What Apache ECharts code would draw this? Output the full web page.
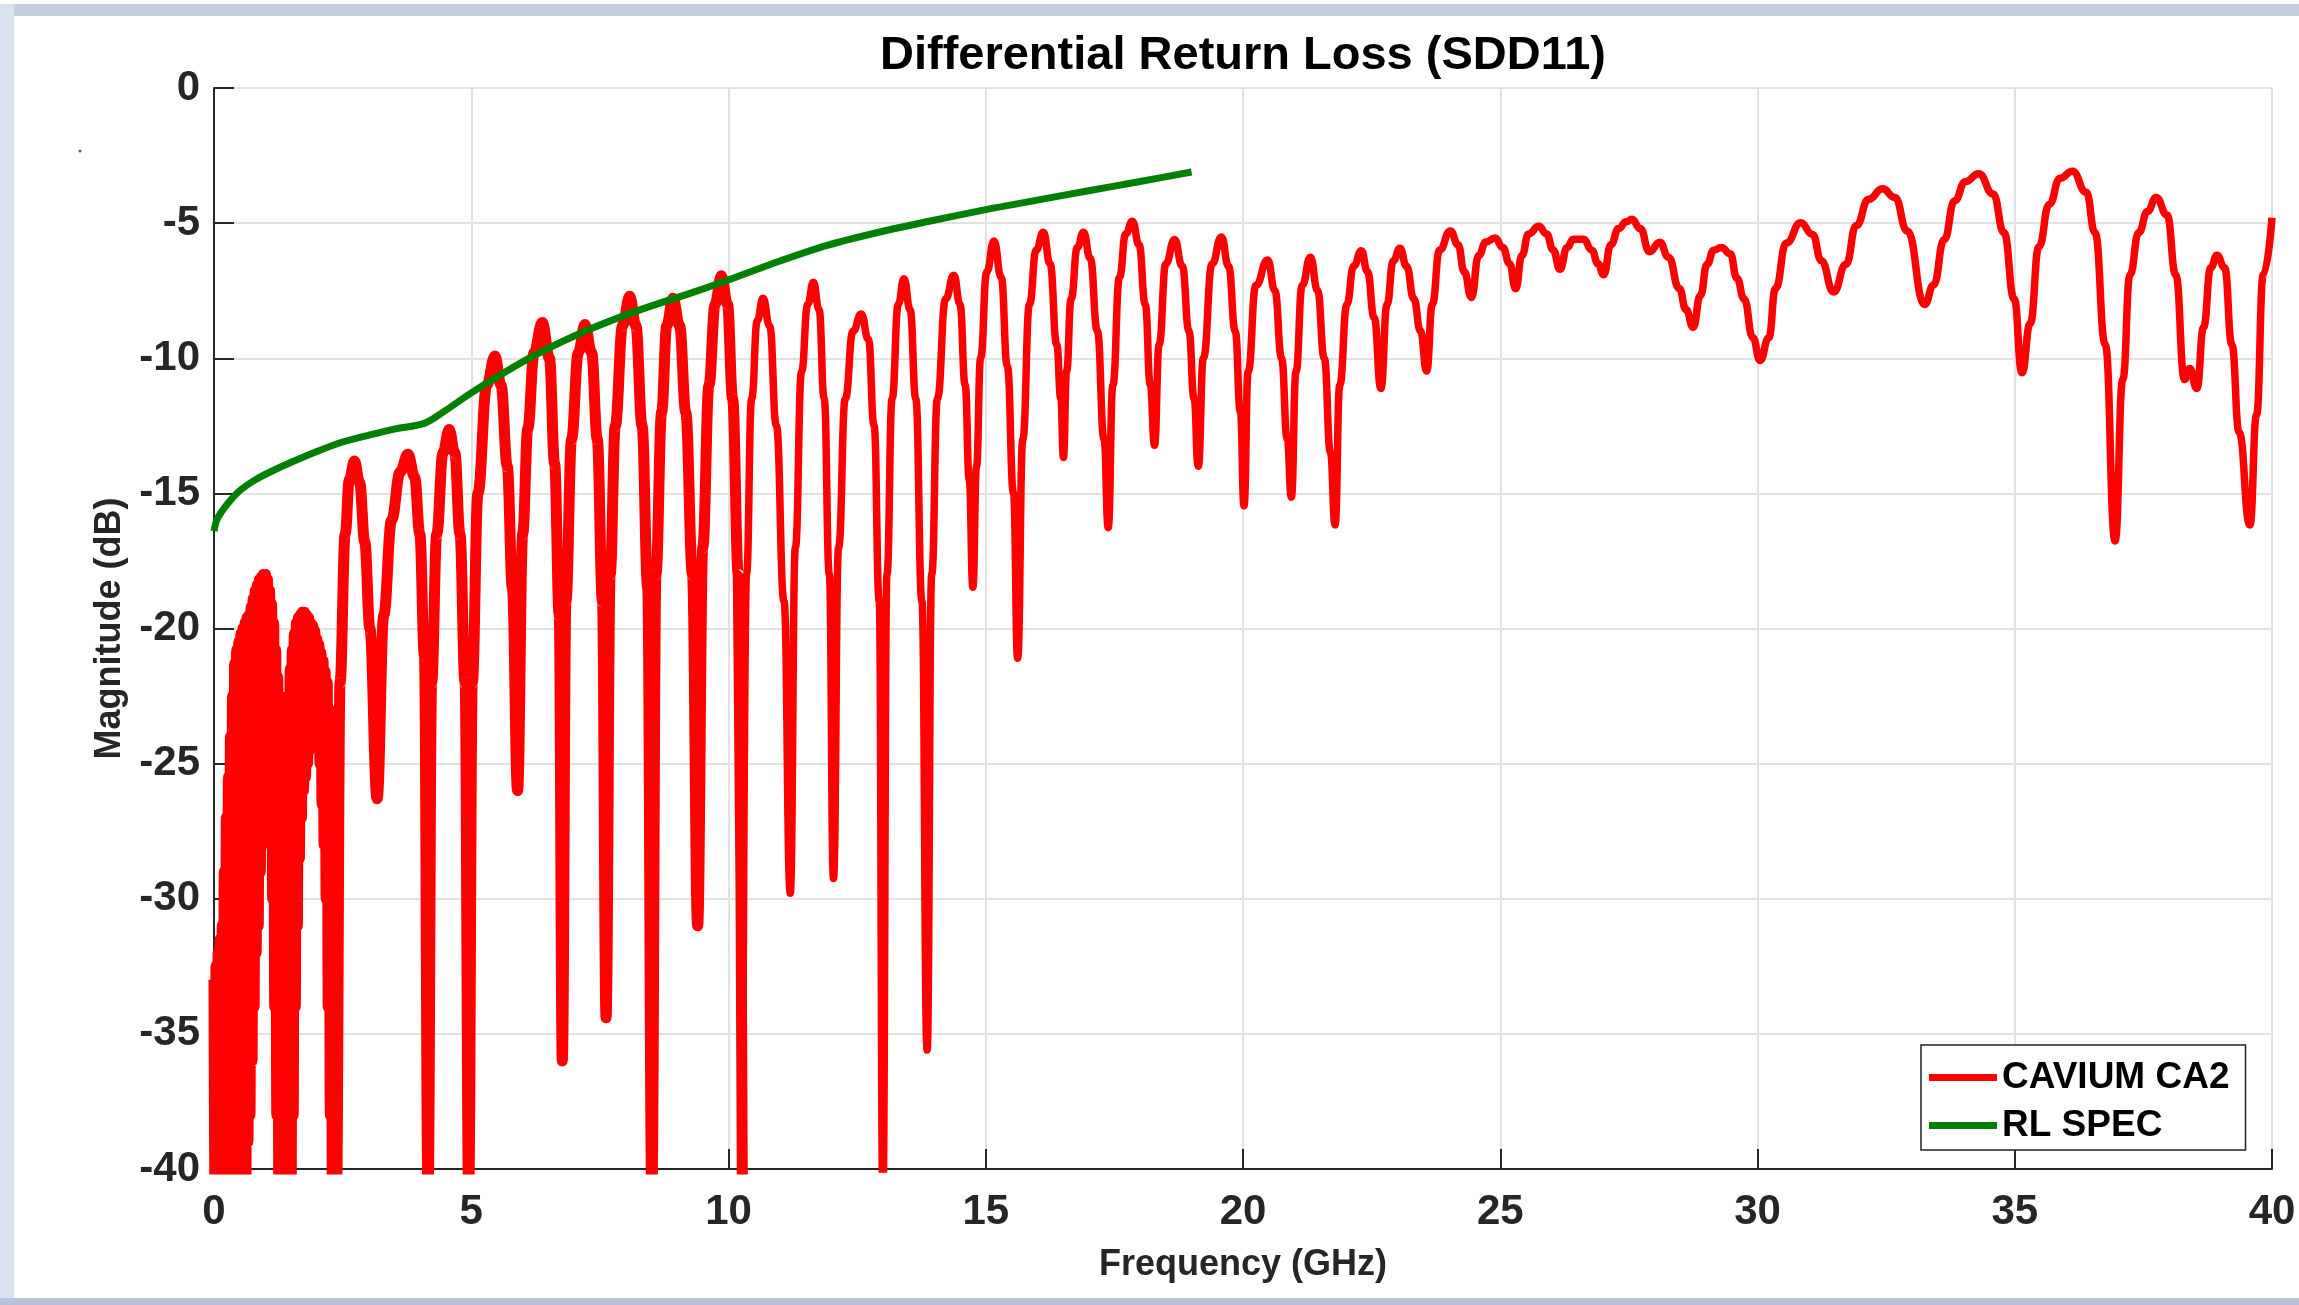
<!DOCTYPE html>
<html>
<head>
<meta charset="utf-8">
<script src="https://cdn.jsdelivr.net/npm/echarts@6/dist/echarts.min.js"></script>
<style>
html,body{margin:0;padding:0;background:#fff;}
#chart-wrapper{width:2299px;height:1305px;}
</style>
</head>
<body>
<div id="chart-wrapper"></div>
<script>
var chartTitle = "Differential Return Loss (SDD11)";
var seriesNames = ["CAVIUM CA2", "RL SPEC"];
var xTicks = [0, 5, 10, 15, 20, 25, 30, 35, 40];
var yTicks = [-40, -35, -30, -25, -20, -15, -10, -5, 0];

// measured S-parameter trace, [GHz, dB], below ~10 GHz (thick, noisy part)
var caviumLow = [
	[0,-33],[0.02,-41],[0.04,-32.5],[0.06,-41],[0.08,-32],[0.10,-41],[0.12,-31.5],[0.14,-38.5],[0.16,-31],[0.18,-38.5],
	[0.20,-29],[0.22,-38.5],[0.24,-27],[0.26,-38.5],[0.28,-25.5],[0.30,-41],[0.32,-24],[0.34,-41],[0.36,-22.5],[0.38,-41],
	[0.40,-21.3],[0.42,-41],[0.44,-20.8],[0.46,-41],[0.48,-20.5],[0.50,-41],[0.52,-20.2],[0.54,-41],[0.56,-20],[0.58,-41],
	[0.60,-19.8],[0.62,-41],[0.64,-19.6],[0.66,-39],[0.68,-19.5],[0.70,-38],[0.72,-19.2],[0.74,-36],[0.76,-18.9],[0.78,-34],
	[0.80,-18.6],[0.82,-32],[0.84,-18.4],[0.86,-31],[0.88,-18.2],[0.90,-29],[0.92,-18.1],[0.94,-28],[0.96,-18.0],[0.98,-26.5],
	[1.00,-18.0],[1.02,-25.5],[1.04,-18.2],[1.06,-25],[1.08,-18.6],[1.10,-26],[1.12,-19.1],[1.14,-30],[1.16,-19.8],[1.18,-34],
	[1.20,-20.8],[1.22,-38],[1.24,-21.8],[1.26,-41],[1.28,-22.5],[1.30,-41],[1.32,-23.5],[1.34,-41],[1.36,-25],[1.38,-41],
	[1.40,-24],[1.42,-41],[1.44,-22.5],[1.46,-41],[1.48,-21.5],[1.50,-41],[1.52,-20.8],[1.54,-38],[1.56,-20.2],[1.58,-34],
	[1.60,-19.8],[1.62,-31],[1.64,-19.6],[1.66,-28.5],[1.68,-19.5],[1.70,-27],[1.72,-19.4],[1.74,-26],[1.76,-19.4],[1.78,-25.5],
	[1.80,-19.5],[1.82,-25],[1.84,-19.6],[1.86,-24.5],[1.88,-19.8],[1.90,-24],[1.92,-19.9],[1.94,-23.8],[1.96,-20.1],[1.98,-23.6],
	[2.00,-20.4],[2.02,-24],[2.04,-20.6],[2.06,-25],[2.08,-20.9],[2.10,-26.5],[2.12,-21.2],[2.14,-28],[2.16,-21.6],[2.18,-30],
	[2.20,-22],[2.22,-34],[2.24,-23],[2.26,-38],[2.28,-24.5],[2.30,-41],[2.32,-26],[2.34,-41],[2.36,-27],
	[2.38,-41],[2.45,-22],[2.55,-16.5],[2.63,-14.5],[2.73,-13.8],[2.83,-14.6],[2.93,-16.8],[3.03,-20],[3.17,-26.3],
	[3.30,-19.5],[3.45,-16],[3.62,-14.2],[3.77,-13.55],[3.90,-14.4],[4.00,-16.5],[4.09,-21],[4.16,-41],
	[4.23,-22],[4.33,-16.5],[4.45,-13.5],[4.57,-12.64],[4.68,-13.5],[4.78,-16.5],[4.88,-22],[4.95,-41],
	[5.02,-22],[5.13,-15],[5.30,-11],[5.46,-9.92],[5.58,-11],[5.70,-14],[5.80,-18.5],[5.90,-26.0],
	[6.00,-16.5],[6.10,-12.6],[6.22,-9.8],[6.38,-8.68],[6.52,-10.0],[6.62,-13.9],[6.71,-19.5],[6.77,-36],
	[6.84,-19],[6.95,-13],[7.08,-9.8],[7.21,-8.75],[7.34,-9.8],[7.45,-13],[7.55,-19],[7.62,-34.4],
	[7.70,-18],[7.80,-12.5],[7.94,-8.8],[8.08,-7.71],[8.20,-8.8],[8.32,-12.5],[8.43,-18.5],[8.51,-41],
	[8.59,-18],[8.70,-12],[8.80,-8.8],[8.92,-7.78],[9.05,-8.8],[9.17,-12],[9.30,-18],[9.40,-31.0],
	[9.50,-17],[9.62,-11],[9.74,-8],[9.86,-6.95],[9.98,-8],[10.08,-11.5],[10.19,-18],[10.27,-41]
];

// same trace, 10.27 GHz up to 40 GHz
var caviumHigh = [
	[10.27,-41],[10.35,-18],[10.45,-11.5],[10.56,-8.6],[10.67,-7.78],[10.80,-8.8],[10.93,-12.5],[11.08,-19],[11.20,-29.8],
	[11.30,-17],[11.42,-10.5],[11.54,-8],[11.65,-7.19],[11.76,-8.2],[11.86,-11.5],[11.96,-18],[12.04,-29.25],
	[12.14,-17],[12.27,-11.5],[12.42,-9],[12.58,-8.36],[12.72,-9.3],[12.83,-12.5],[12.93,-19],[13.00,-41],
	[13.08,-18],[13.18,-11.5],[13.30,-8],[13.41,-7.06],[13.53,-8.2],[13.64,-11.5],[13.76,-19],[13.86,-35.6],
	[13.95,-18],[14.06,-11.5],[14.22,-7.8],[14.38,-6.93],[14.50,-8],[14.60,-11],[14.68,-14.5],[14.75,-18.47],
	[14.82,-14],[14.90,-10],[15.02,-6.8],[15.16,-5.66],[15.30,-7],[15.42,-10.3],[15.54,-15],[15.62,-21.1],
	[15.72,-13],[15.85,-8],[15.98,-6],[16.12,-5.34],[16.25,-6.5],[16.38,-9.5],[16.46,-11.5],[16.51,-13.67],
	[16.57,-10.5],[16.66,-7.8],[16.78,-5.9],[16.90,-5.34],[17.03,-6.3],[17.17,-9],[17.30,-13],[17.38,-16.27],
	[17.47,-11],[17.60,-7],[17.72,-5.4],[17.85,-4.93],[17.98,-5.8],[18.10,-8],[18.20,-11],[18.28,-13.22],
	[18.37,-9.5],[18.50,-6.5],[18.67,-5.61],[18.82,-6.6],[18.95,-9],[19.05,-11.5],[19.13,-14.0],
	[19.23,-10],[19.40,-6.5],[19.58,-5.51],[19.72,-6.6],[19.85,-9],[19.95,-12],[20.02,-15.46],
	[20.10,-10.5],[20.25,-7.3],[20.48,-6.36],[20.62,-7.5],[20.75,-10],[20.86,-13],[20.94,-15.14],
	[21.03,-10.5],[21.15,-7.3],[21.31,-6.26],[21.45,-7.5],[21.58,-10],[21.70,-13.5],[21.79,-16.17],
	[21.88,-11],[22.02,-8],[22.15,-6.6],[22.30,-6.02],[22.42,-6.8],[22.55,-8.5],[22.68,-11.12],
	[22.80,-8],[22.92,-6.4],[23.05,-5.93],[23.18,-6.6],[23.32,-7.8],[23.45,-9],[23.57,-10.47],
	[23.68,-8],[23.82,-6],[24.03,-5.29],[24.18,-5.8],[24.30,-6.8],[24.44,-7.75],
	[24.58,-6.2],[24.72,-5.7],[24.90,-5.55],[25.05,-5.9],[25.18,-6.5],[25.30,-7.43],
	[25.42,-6.2],[25.55,-5.4],[25.75,-5.12],[25.90,-5.4],[26.03,-6.0],[26.16,-6.71],
	[26.30,-5.9],[26.42,-5.6],[26.62,-5.6],[26.78,-6.0],[26.90,-6.5],[27.01,-6.91],
	[27.15,-5.8],[27.30,-5.2],[27.45,-4.95],[27.56,-4.86],[27.72,-5.2],[27.90,-6.06],[28.10,-5.71],[28.27,-6.26],
	[28.48,-7.42],[28.61,-8.2],[28.75,-8.85],[28.89,-7.68],[29.02,-6.52],[29.15,-6.0],[29.30,-5.9],[29.47,-6.13],
	[29.60,-7.04],[29.74,-7.81],[29.91,-9.24],[30.05,-10.08],[30.22,-9.24],[30.35,-7.42],[30.56,-5.74],[30.84,-4.99],
	[31.07,-5.42],[31.24,-6.39],[31.48,-7.55],[31.72,-6.52],[31.92,-5.09],[32.16,-4.12],[32.43,-3.73],[32.67,-4.05],
	[32.91,-5.29],[33.25,-8.01],[33.42,-7.3],[33.63,-5.61],[33.83,-4.18],[34.04,-3.47],[34.30,-3.17],[34.58,-3.92],
	[34.79,-5.35],[34.99,-7.81],[35.14,-10.54],[35.30,-8.72],[35.47,-5.87],[35.67,-4.31],[35.88,-3.34],[36.12,-3.08],
	[36.39,-3.86],[36.56,-5.35],[36.76,-9.5],[36.95,-16.76],[37.10,-10.79],[37.24,-6.91],[37.41,-5.35],[37.58,-4.57],
	[37.75,-4.05],[37.96,-4.7],[38.13,-6.91],[38.30,-10.79],[38.40,-10.38],[38.54,-11.12],[38.67,-8.85],[38.81,-6.65],
	[38.93,-6.19],[39.08,-6.65],[39.22,-9.5],[39.36,-12.74],[39.57,-16.17],[39.70,-12.09],[39.83,-6.91],[40.0,-4.8]
];

// return loss spec limit, [GHz, dB]
var rlSpec = [
	[0,-16.4],[0.05,-16.0],[0.14,-15.7],[0.3,-15.3],[0.5,-14.9],[0.8,-14.5],[1.1,-14.2],[1.5,-13.85],[2.0,-13.45],
	[2.5,-13.1],[3.0,-12.85],[3.5,-12.62],[4.1,-12.4],[4.5,-11.93],[5.0,-11.28],[5.5,-10.69],[6.2,-9.92],[7.2,-9.01],
	[8.25,-8.23],[9.28,-7.58],[10.0,-7.1],[11.0,-6.4],[11.9,-5.83],[13.0,-5.3],[13.9,-4.93],[15.0,-4.5],[16.0,-4.15],
	[17.0,-3.8],[18.0,-3.46],[19.0,-3.11]
];

var myChart = echarts.init(document.getElementById("chart-wrapper"));

var fontName = "Liberation Sans, Arial, sans-serif";
var axisColor = "#262626";

var option = {
	animation: false,
	backgroundColor: "#fff",
	title: {
		text: chartTitle,
		left: 875,
		top: 28,
		textStyle: {fontSize: 47, fontWeight: "bold", fontFamily: fontName, color: "#000"}
	},
	grid: {left: 214, right: 27, top: 88, bottom: 136},
	legend: {
		data: seriesNames,
		orient: "vertical",
		left: 1921,
		top: 1045,
		icon: "rect",
		itemWidth: 68,
		itemHeight: 7,
		itemGap: 11,
		padding: [14, 16, 6, 8],
		borderColor: "#222",
		borderWidth: 1.5,
		backgroundColor: "#fff",
		textStyle: {fontSize: 37, fontWeight: "bold", fontFamily: fontName, color: "#000"}
	},
	xAxis: {
		type: "value",
		min: 0,
		max: 40,
		interval: 5,
		name: "Frequency (GHz)",
		nameLocation: "middle",
		nameGap: 78,
		nameTextStyle: {fontSize: 36, fontWeight: "bold", fontFamily: fontName, color: axisColor},
		axisLine: {onZero: false, lineStyle: {color: axisColor, width: 2}},
		axisTick: {inside: true, length: 20, lineStyle: {color: axisColor, width: 2}},
		axisLabel: {margin: 22, fontSize: 42, fontWeight: "bold", fontFamily: fontName, color: axisColor},
		splitLine: {show: true, lineStyle: {color: "#e2e2e2", width: 2}}
	},
	yAxis: {
		type: "value",
		min: -40,
		max: 0,
		interval: 5,
		name: "Magnitude (dB)",
		nameLocation: "middle",
		nameGap: 84,
		nameTextStyle: {fontSize: 36, fontWeight: "bold", fontFamily: fontName, color: axisColor},
		axisLine: {onZero: false, lineStyle: {color: axisColor, width: 2}},
		axisTick: {inside: true, length: 20, lineStyle: {color: axisColor, width: 2}},
		axisLabel: {margin: 14, fontSize: 42, fontWeight: "bold", fontFamily: fontName, color: axisColor},
		splitLine: {show: true, lineStyle: {color: "#e2e2e2", width: 2}}
	},
	graphic: [
		{type: "rect", shape: {x: 0, y: 4, width: 2299, height: 12}, style: {fill: "#c5cedc"}, silent: true},
		{type: "rect", shape: {x: 0, y: 4, width: 14, height: 1301}, style: {fill: "#d9e1ee"}, silent: true},
		{type: "rect", shape: {x: 0, y: 1298, width: 2299, height: 7}, style: {fill: "#b7c2d6"}, silent: true},
		{type: "circle", shape: {cx: 80, cy: 151, r: 1.5}, style: {fill: "#555"}, silent: true}
	],
	series: [
		{
			name: seriesNames[0],
			type: "line",
			data: caviumLow,
			showSymbol: false,
			smooth: 0.4,
			smoothMonotone: "x",
			lineStyle: {color: "#ff0000", width: 11},
			itemStyle: {color: "#ff0000"}
		},
		{
			name: seriesNames[0],
			type: "line",
			data: caviumHigh,
			showSymbol: false,
			smooth: 0.5,
			smoothMonotone: "x",
			lineStyle: {color: "#ff0000", width: 7.5},
			itemStyle: {color: "#ff0000"}
		},
		{
			name: seriesNames[1],
			type: "line",
			data: rlSpec,
			showSymbol: false,
			smooth: 0.3,
			lineStyle: {color: "#008000", width: 7},
			itemStyle: {color: "#008000"}
		}
	]
};

myChart.setOption(option);
</script>
</body>
</html>
